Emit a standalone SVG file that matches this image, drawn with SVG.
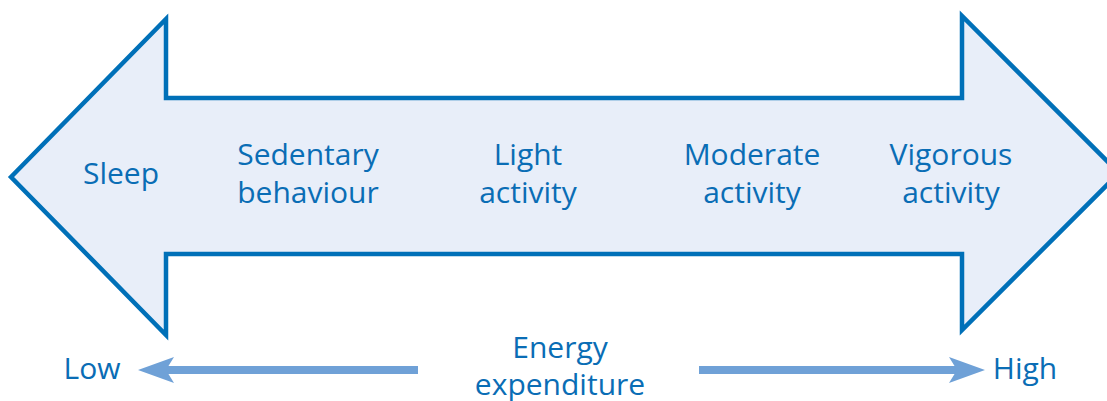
<svg xmlns="http://www.w3.org/2000/svg" width="1107" height="401" viewBox="0 0 1107 401">
<style>
.lbl{font-family:"Open Sans","DejaVu Sans",sans-serif;font-size:30px;fill:#0a6db5;text-anchor:middle}
</style>
<defs>
<marker id="ah" markerWidth="4.5" markerHeight="3.25" refX="1" refY="1.625" orient="auto" markerUnits="strokeWidth">
<path d="M0,0 L4.5,1.625 L0,3.25 L1,1.625 Z" fill="#6fa1d7"/>
</marker>
</defs>
<rect width="1107" height="401" fill="#ffffff"/>
<g id="bigarrow">
<path d="M11,177 L166,19 L166,98 L962,98 L962,16 L1119,173 L962,330 L962,254 L166,254 L166,335 Z" fill="#e8eef9" stroke="#0070b8" stroke-width="4.5" stroke-linejoin="miter"/>
</g>
<g id="sleep"><text class="lbl" x="121" y="184">Sleep</text></g>
<g id="sedentary"><text class="lbl" x="308" y="165">Sedentary</text><text class="lbl" x="308" y="203">behaviour</text></g>
<g id="light"><text class="lbl" x="528" y="165">Light</text><text class="lbl" x="528" y="203">activity</text></g>
<g id="moderate"><text class="lbl" x="752" y="165">Moderate</text><text class="lbl" x="752" y="203">activity</text></g>
<g id="vigorous"><text class="lbl" x="951" y="165">Vigorous</text><text class="lbl" x="951" y="203">activity</text></g>
<g id="energy"><text class="lbl" x="560" y="358">Energy</text><text class="lbl" x="560" y="395">expenditure</text></g>
<g id="low"><text class="lbl" x="92" y="379">Low</text></g>
<g id="high"><text class="lbl" x="1025" y="379">High</text></g>
<g id="connectors" stroke="#6fa1d7" stroke-width="8" fill="none">
<line x1="418" y1="370" x2="166" y2="370" marker-end="url(#ah)"/>
<line x1="699" y1="370" x2="957" y2="370" marker-end="url(#ah)"/>
</g>
</svg>
